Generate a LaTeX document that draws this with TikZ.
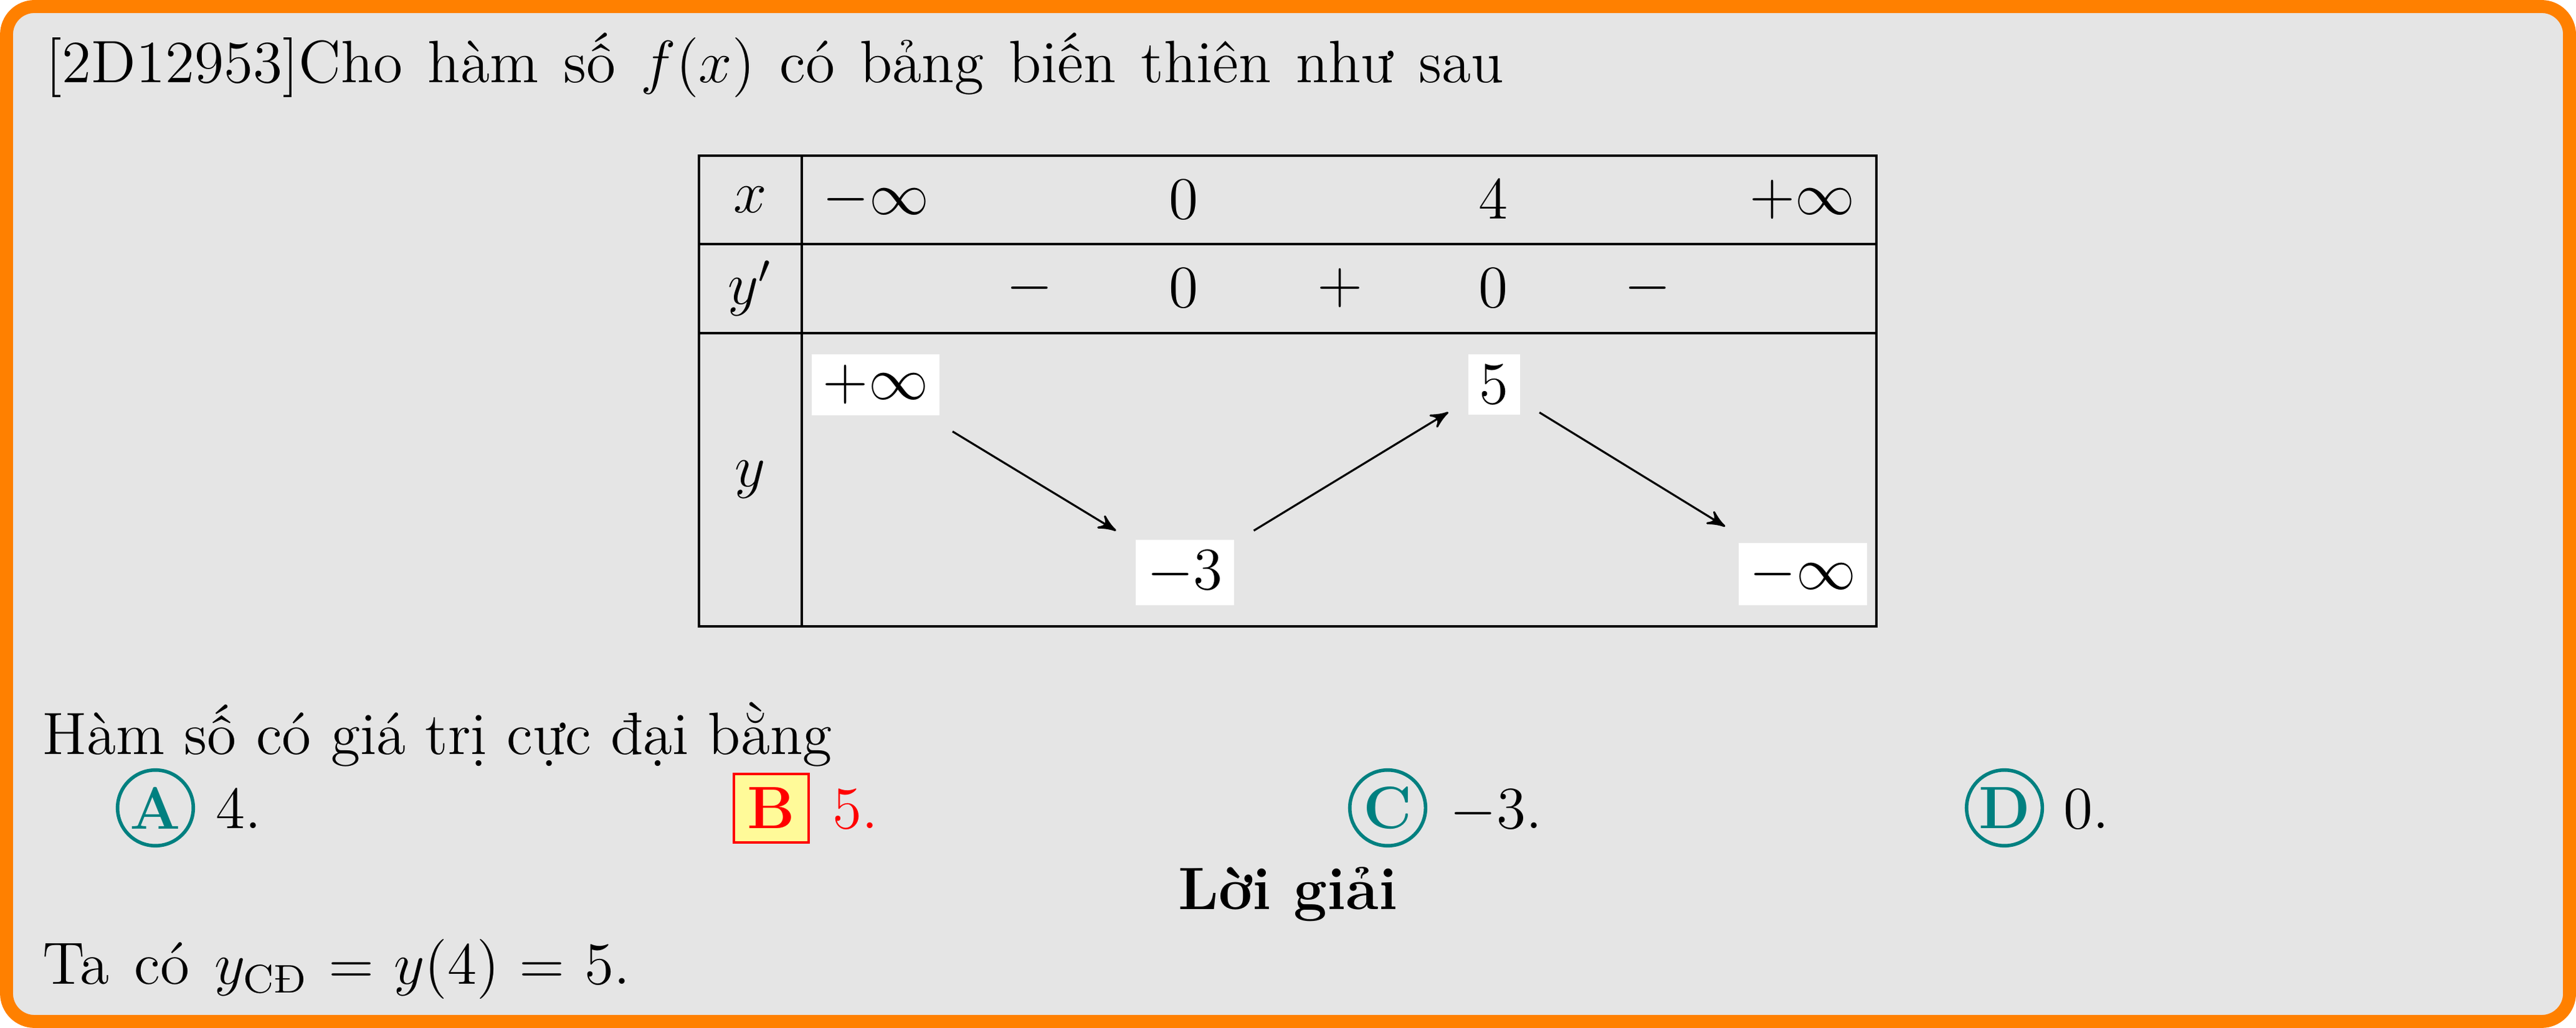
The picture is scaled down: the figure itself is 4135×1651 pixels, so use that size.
\documentclass[12pt,tikz,border=0pt]{standalone}
\usepackage{amsmath}
\usetikzlibrary{arrows,positioning}
\tikzstyle{boxFrame} = [draw=orange, fill=black!10, line width=2.6pt, rounded corners=5.6pt]
\tikzstyle{tabLine} = [line width=0.4pt, draw=black]
\tikzstyle{cellNode} = [inner sep=0pt]
\tikzstyle{valNode} = [fill=white, inner sep=2.25pt]
\tikzstyle{txtNode} = [anchor=base west, inner sep=0pt]
\tikzstyle{arrowT} = [->,>=stealth',line width=0.4pt,draw=black]
\tikzstyle{choiceC} = [circle, draw=teal, line width=0.7pt, text=teal, font=\bfseries, minimum size=15.2pt, inner sep=0pt]
\tikzstyle{choiceB} = [rectangle, draw=red, fill=yellow!40, text=red, font=\bfseries, line width=0.5pt, minimum width=15pt, minimum height=13.75pt, inner sep=0pt]

\begin{document}
\begin{tikzpicture}[x=0.125pt,y=-0.125pt]
        \useasboundingbox (0,0) rectangle (4135,1651);
        \draw [boxFrame] (10.5,10.5) rectangle (4124.5,1640.5);
        \node (title) [txtNode] at (72,133) {\spaceskip=5pt [2D12953]Cho hàm số $f(x)$ có bảng biến thiên như sau};

        \draw [tabLine] (1122,250) rectangle (3012,1006);
        \draw [tabLine] (1287,250) -- (1287,1006);
        \draw [tabLine] (1122,392) -- (3012,392);
        \draw [tabLine] (1122,535) -- (3012,535);

        \node (lx) [cellNode] at (1204,321) {$x$};
        \node (x1) [cellNode] at (1406,321) {$-\infty$};
        \node (x2) [cellNode] at (1900,321) {$0$};
        \node (x3) [cellNode] at (2397,321) {$4$};
        \node (x4) [cellNode] at (2893,321) {$+\infty$};

        \node (ld) [cellNode] at (1204,463) {$y'$};
        \node (d1) [cellNode] at (1653,463) {$-$};
        \node (d2) [cellNode] at (1900,463) {$0$};
        \node (d3) [cellNode] at (2151,463) {$+$};
        \node (d4) [cellNode] at (2397,463) {$0$};
        \node (d5) [cellNode] at (2645,463) {$-$};

        \node (ly) [cellNode] at (1204,770) {$y$};
        \node (pinf) [valNode, anchor=north] at (1405.5,567) {$+\infty$};
        \node (mthree) [valNode, anchor=south] at (1902,974) {$-3$};
        \node (five) [valNode, anchor=north] at (2398,567) {$5$};
        \node (minf) [valNode, anchor=south] at (2894,974) {$-\infty$};

        \draw [arrowT, shorten <=5.8pt, shorten >=4.4pt] (pinf) -- (mthree);
        \draw [arrowT, shorten <=4.4pt, shorten >=4.4pt] (mthree) -- (five);
        \draw [arrowT, shorten <=4.4pt, shorten >=6pt] (five) -- (minf);

        \node (ques) [txtNode] at (67,1212) {Hàm số có giá trị cực đại bằng};
        \node (cA) [choiceC] at (249.5,1297.5) {A};
        \node (cB) [choiceB] at (1238,1298) {B};
        \node (cC) [choiceC] at (2227.5,1297.5) {C};
        \node (cD) [choiceC] at (3217.5,1297.5) {D};
        \node (aA) [txtNode] at (345,1331) {4.};
        \node (aB) [txtNode, text=red] at (1335,1331) {5.};
        \node (aC) [txtNode] at (2326,1331) {$-3$.};
        \node (aD) [txtNode] at (3311,1331) {0.};

        \node (sol) [inner sep=0pt, anchor=base, font=\bfseries] at (2067.5,1460) {Lời giải};
        \node (ans) [txtNode] at (67,1580) {\spaceskip=5pt \thickmuskip=6mu Ta có $y_{\text{CĐ}}=y(4)=5$.};
    \end{tikzpicture}
\end{document}
